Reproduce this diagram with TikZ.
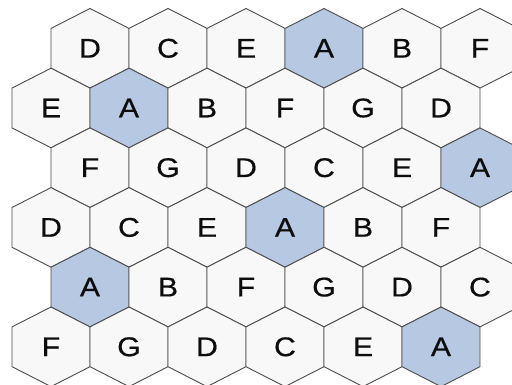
\documentclass[tikz,border=0pt]{standalone}
\usepackage{fontspec}
\setmainfont{Liberation Sans}
\newfontfamily\cellfont[FakeStretch=1.12, FakeBold=0.5]{Liberation Sans}
\definecolor{hexline}{HTML}{4C4C4C}
\definecolor{hexwhite}{HTML}{F8F8F8}
\definecolor{hexblue}{HTML}{B7C8E2}
\tikzset{
  hexcell/.style={draw=hexline, fill=hexwhite, line width=0.9pt, line join=round},
  hexcell A/.style={fill=hexblue},
  letter/.style={font=\cellfont\fontsize{27}{27}\selectfont, text=black!95, inner sep=0pt}
}

\begin{document}
\begin{tikzpicture}[x=1pt, y=1pt]
    % Frame
    \useasboundingbox (0,0) rectangle (512,385);
    \fill[white] (0,0) rectangle (512,385);
    \clip (0,0) rectangle (512,385);

    % Half width, half height of a cell, height of its slanted part
    \def\hw{39}
    \def\hh{39.8}
    \def\tp{19.9}

    % Rows of cells, from the top
    \foreach \r/\xs/\letters in {0/90/{D,C,E,A,B,F}, 1/51/{E,A,B,F,G,D},
                                 2/90/{F,G,D,C,E,A}, 3/51/{D,C,E,A,B,F},
                                 4/90/{A,B,F,G,D,C}, 5/51/{F,G,D,C,E,A}} {
      \foreach \lab [count=\c from 0] in \letters {
        \pgfmathsetmacro{\cx}{\xs + 78*\c}
        \pgfmathsetmacro{\cy}{385 - 48.3 - 59.7*\r}
        \draw[hexcell, hexcell \lab/.try] (\cx,\cy) ++(0,\hh)
          -- ++(\hw,-\tp) -- ++(0,-2*\hh+2*\tp) -- ++(-\hw,-\tp)
          -- ++(-\hw,\tp) -- ++(0,2*\hh-2*\tp) -- cycle;
        \node[letter] (cell-\r-\c) at (\cx,\cy) {\lab};
      }
    }
\end{tikzpicture}
\end{document}
